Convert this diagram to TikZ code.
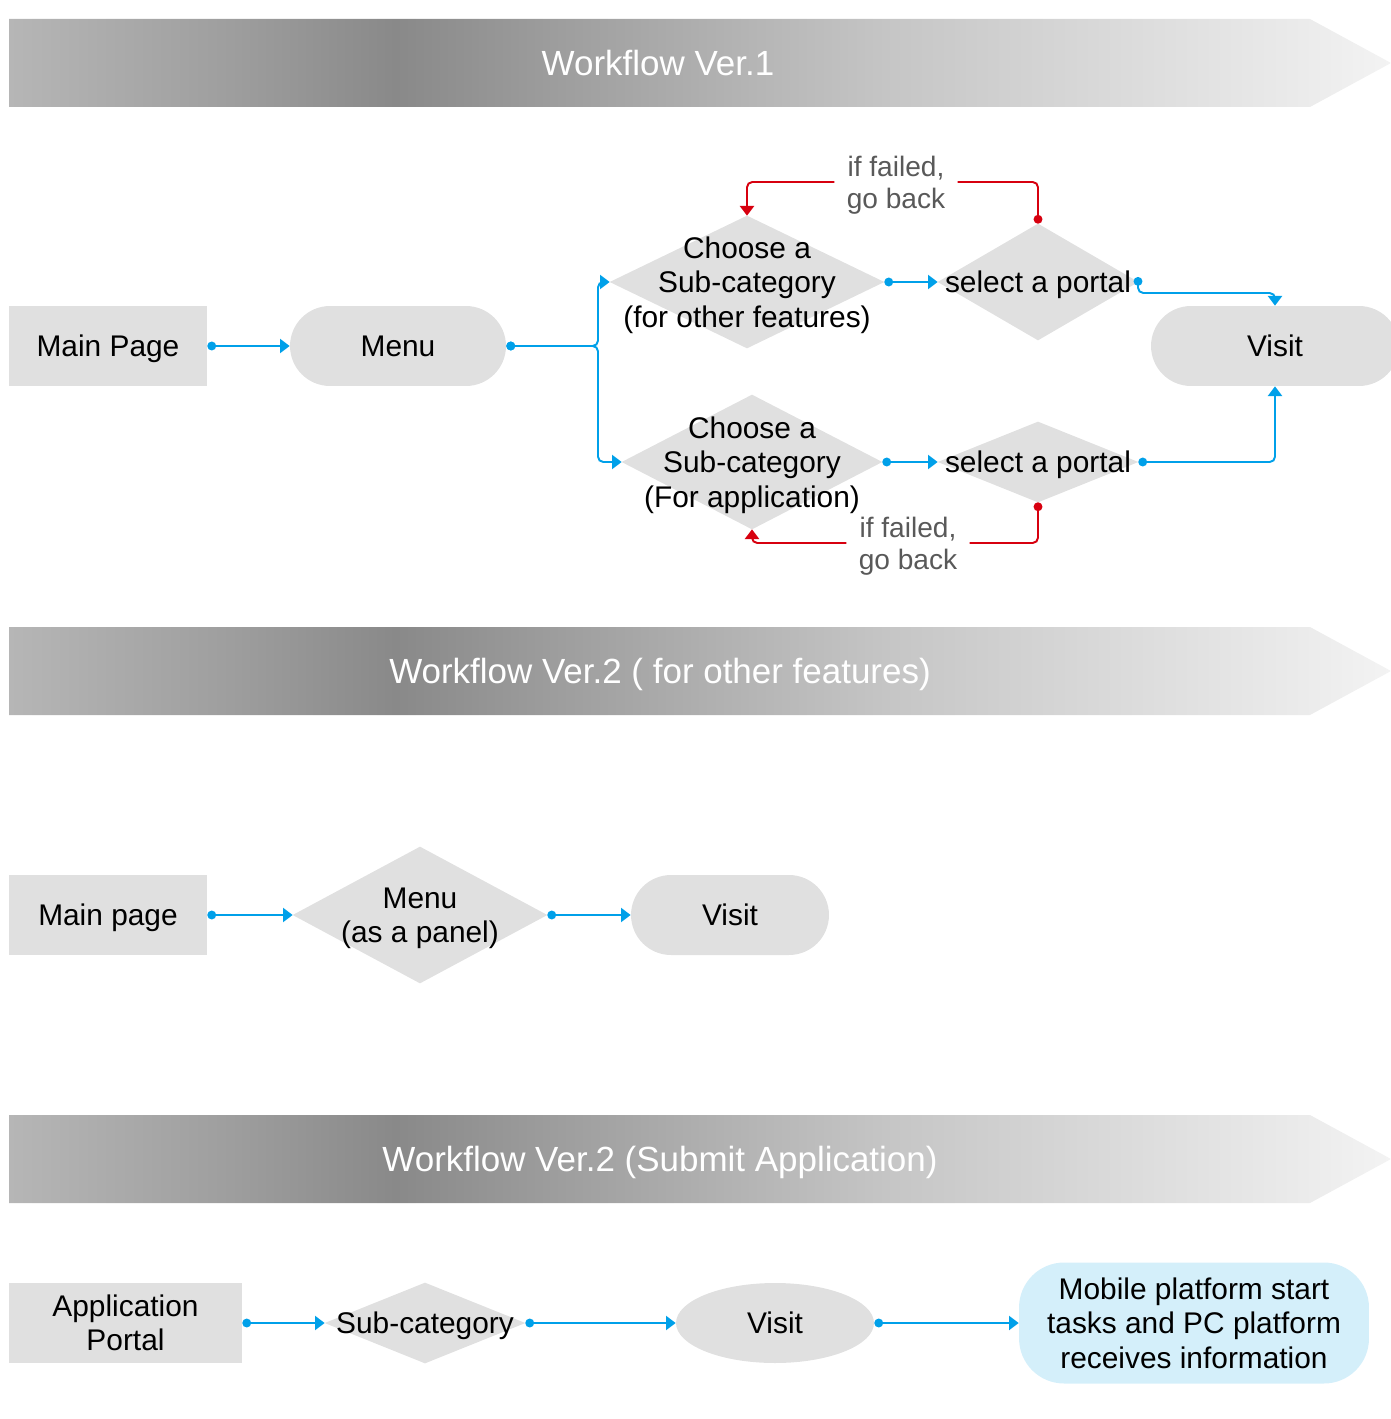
\documentclass[tikz,border=0pt]{standalone}
\usepackage{fontspec}
\setmainfont{Liberation Sans}
\usetikzlibrary{arrows.meta, shapes.geometric}

\definecolor{boxgray}{HTML}{E0E0E0}
\definecolor{flowblue}{HTML}{00A0E9}
\definecolor{failred}{HTML}{D7000F}
\definecolor{notegray}{HTML}{595959}
\definecolor{mobileblue}{HTML}{D4EFFA}
\definecolor{banA}{HTML}{B6B6B6}
\definecolor{banM}{HTML}{9E9E9E}
\definecolor{banB}{HTML}{898989}
\definecolor{banC}{HTML}{C6C6C6}
\definecolor{banD}{HTML}{F3F3F3}

\pgfdeclarehorizontalshading{banner}{100bp}{color(0bp)=(banA); color(25bp)=(banA);
  color(33bp)=(banM); color(39bp)=(banB); color(45bp)=(banM); color(57bp)=(banC);
  color(75bp)=(banD); color(100bp)=(banD)}

\pgfdeclarelayer{background}
\pgfsetlayers{background,main}

\tikzset{
  every node/.style={font=\fontsize{17}{19.5}\selectfont, align=center, inner sep=0pt, text depth=0pt},
  bannertext/.style={text=white, font=\fontsize{19.9}{22}\selectfont},
  pagebox/.style={fill=boxgray, minimum width=#1, minimum height=1.6cm},
  pill/.style={fill=boxgray, rounded corners=0.8cm, minimum width=#1, minimum height=1.6cm},
  dia/.style 2 args={minimum width=#1, minimum height=#2},
  note/.style={text=notegray, font=\fontsize{16}{18.3}\selectfont, inner xsep=0.24cm},
  flow/.style={flowblue, line width=1.1pt, rounded corners=3pt,
    arrows={Circle[length=5pt]-Triangle[length=5.5pt, width=8pt]}},
  faildot/.style={failred, line width=1.1pt, rounded corners=3pt, arrows={Circle[length=5pt]-}},
  failtip/.style={failred, line width=1.1pt, rounded corners=3pt,
    arrows={-Triangle[length=5.5pt, width=8pt]}}
}

\begin{document}
\begin{tikzpicture}[x=0.02cm, y=-0.02cm]

  \useasboundingbox (0,0) rectangle (1391,1419);

  % workflow ver.1
  \begin{scope}
    % banner
    \shade[shading=banner] (9,19) -- (1310,19) -- (1391,63) -- (1310,107) -- (9,107) -- cycle;
    \node[bannertext] (ban1) at (658,63) {Workflow Ver.1};

    % nodes
    \node[pagebox=3.96cm] (main1) at (108,346) {Main Page};
    \node[pill=4.32cm] (menu1) at (398,346) {Menu};
    \node[dia={5.48cm}{2.64cm}] (dc1) at (747,282) {Choose a\\Sub-category\\(for other features)};
    \node[dia={5.2cm}{2.68cm}] (dc2) at (752,462) {Choose a\\Sub-category\\(For application)};
    \node[dia={4cm}{2.32cm}] (sp1) at (1038,282) {select a portal};
    \node[dia={4cm}{1.6cm}] (sp2) at (1038,462) {select a portal};
    \node[pill=4.96cm] (visit1) at (1275,346) {Visit};
    \coordinate (split1) at (598,346);
    \coordinate (out1) at (1138,277);

    % fail notes
    \node[note] (fail1) at (896,182) {if failed,\\go back};
    \node[note] (fail2) at (908,543) {if failed,\\go back};

    % main flow
    \draw[flow] (main1.east) -- (menu1.west);
    \draw[flow] (menu1.east) -- (split1) |- (dc1.west);
    \draw[flow] (menu1.east) -- (split1) |- (dc2.west);
    \draw[flow] (dc1.east) -- (sp1.west);
    \draw[flow] (dc2.east) -- (sp2.west);
    \draw[flow] (out1) -- ++(0,16) -| (visit1.north);
    \draw[flow] (sp2.east) -| (visit1.south);

    % go back
    \draw[faildot] (sp1.north) |- (fail1.east);
    \draw[failtip] (fail1.west) -| (dc1.north);
    \draw[faildot] (sp2.south) |- (fail2.east);
    \draw[failtip] (fail2.west) -| (dc2.south);
  \end{scope}

  % workflow ver.2, other features
  \begin{scope}
    % banner
    \shade[shading=banner] (9,627) -- (1310,627) -- (1391,671) -- (1310,715) -- (9,715) -- cycle;
    \node[bannertext] (ban2) at (660,671) {Workflow Ver.2 ( for other features)};

    % nodes
    \node[pagebox=3.96cm] (main2) at (108,915) {Main page};
    \node[dia={5.08cm}{2.72cm}] (menu2) at (420,915) {Menu\\(as a panel)};
    \node[pill=3.96cm] (visit2) at (730,915) {Visit};

    % flow
    \draw[flow] (main2.east) -- (menu2.west);
    \draw[flow] (menu2.east) -- (visit2.west);
  \end{scope}

  % workflow ver.2, submit application
  \begin{scope}
    % banner
    \shade[shading=banner] (9,1115) -- (1310,1115) -- (1391,1159) -- (1310,1203) -- (9,1203) -- cycle;
    \node[bannertext] (ban3) at (660,1159) {Workflow Ver.2 (Submit Application)};

    % nodes
    \node[pagebox=4.66cm] (app3) at (125.5,1323) {Application\\Portal};
    \node[dia={4cm}{1.6cm}] (sub3) at (425,1323) {Sub-category};
    \node[ellipse, fill=boxgray, minimum width=3.96cm, minimum height=1.6cm] (visit3) at (775,1323) {Visit};
    \node[fill=mobileblue, rounded corners=0.9cm, minimum width=7cm, minimum height=2.42cm] (mobile3)
      at (1194,1323) {Mobile platform start\\tasks and PC platform\\receives information};

    % flow
    \draw[flow] (app3.east) -- (sub3.west);
    \draw[flow] (sub3.east) -- (visit3.west);
    \draw[flow] (visit3.east) -- (mobile3.west);
  \end{scope}

  % diamonds behind the texts
  \begin{pgfonlayer}{background}
    \foreach \d in {dc1, dc2, sp1, sp2, menu2, sub3}
      \fill[boxgray] (\d.west) -- (\d.north) -- (\d.east) -- (\d.south) -- cycle;
  \end{pgfonlayer}

\end{tikzpicture}
\end{document}
